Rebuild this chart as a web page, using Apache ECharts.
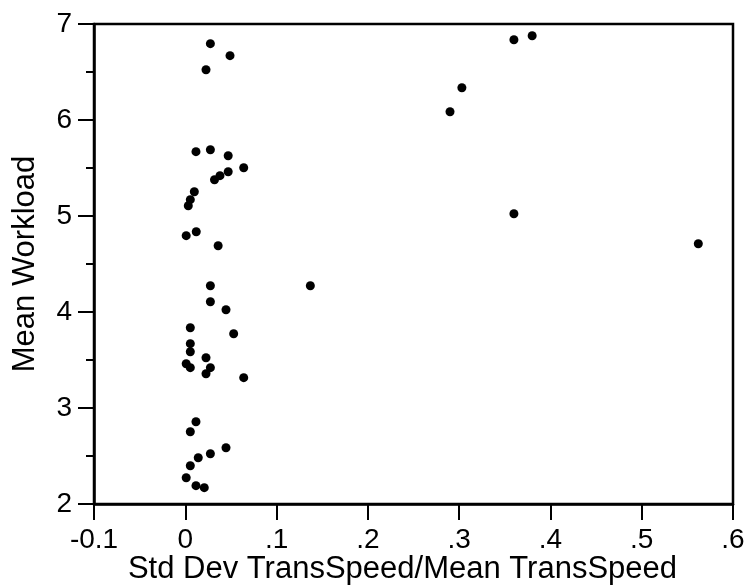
<!DOCTYPE html>
<html>
<head>
<meta charset="utf-8">
<script src="https://cdn.jsdelivr.net/npm/echarts@6/dist/echarts.min.js"></script>
<style>html,body{margin:0;padding:0;background:#fff;}#c{width:746px;height:587px;}</style>
</head>
<body>
<div id="c"></div>
<script>
// Std Dev TransSpeed / Mean TransSpeed
const cvSpeed = [
  0.0275, 0.049, 0.0227, 0.0117, 0.0275, 0.047, 0.064, 0.047, 0.038, 0.032,
  0.0099, 0.0055, 0.0033, 0.012, 0.001, 0.036,
  0.0275, 0.137, 0.0275, 0.0446, 0.0055, 0.053, 0.0055, 0.0055, 0.0227, 0.001,
  0.0055, 0.0275, 0.0227, 0.064, 0.0117, 0.0055, 0.0446, 0.0275, 0.0142, 0.0055,
  0.001, 0.0117, 0.0208,
  0.360, 0.380, 0.303, 0.290, 0.360, 0.562
];
// Mean Workload
const meanWorkload = [
  6.795, 6.67, 6.524, 5.67, 5.69, 5.628, 5.503, 5.461, 5.42, 5.378,
  5.253, 5.17, 5.107, 4.836, 4.795, 4.69,
  4.274, 4.274, 4.107, 4.024, 3.836, 3.774, 3.670, 3.586, 3.524, 3.461,
  3.42, 3.42, 3.357, 3.316, 2.857, 2.753, 2.586, 2.524, 2.482, 2.399,
  2.274, 2.191, 2.170,
  6.836, 6.878, 6.336, 6.086, 5.024, 4.711
];
const xTickLabels = {"-0.1": "-0.1", "0": "0", "0.1": ".1", "0.2": ".2", "0.3": ".3", "0.4": ".4", "0.5": ".5", "0.6": ".6"};
const xTitle = "Std Dev TransSpeed/Mean TransSpeed";
const yTitle = "Mean Workload";

const points = cvSpeed.map((v, i) => [v, meanWorkload[i]]);
const font = "'Liberation Sans', Arial, sans-serif";

const chart = echarts.init(document.getElementById('c'), null, {renderer: 'canvas'});
chart.setOption({
  animation: false,
  backgroundColor: '#fff',
  grid: {left: 94, right: 13, top: 24, bottom: 83, containLabel: false, outerBoundsMode: 'none',
    show: true, borderColor: '#000', borderWidth: 2.5, backgroundColor: 'transparent'},
  xAxis: {
    type: 'value', min: -0.1, max: 0.6, interval: 0.1,
    name: xTitle, nameLocation: 'middle', nameGap: 50, nameMoveOverlap: false,
    nameTextStyle: {fontFamily: font, fontSize: 31, color: '#000', padding: [0, 22, 0, 0]},
    axisLine: {show: true, onZero: false, lineStyle: {color: '#000', width: 2.5}},
    axisTick: {show: true, inside: false, length: 16, lineStyle: {color: '#000', width: 2}},
    axisLabel: {fontFamily: font, fontSize: 28, color: '#000', margin: 22,
      formatter: v => { const k = String(Math.round(v * 10) / 10); return xTickLabels[k] !== undefined ? xTickLabels[k] : k; }},
    splitLine: {show: false}
  },
  yAxis: {
    type: 'value', min: 2, max: 7, interval: 1,
    name: yTitle, nameLocation: 'middle', nameGap: 53, nameMoveOverlap: false,
    nameTextStyle: {fontFamily: font, fontSize: 31, color: '#000'},
    axisLine: {show: true, onZero: false, lineStyle: {color: '#000', width: 2.5}},
    axisTick: {show: true, inside: false, length: 16, lineStyle: {color: '#000', width: 2}},
    minorTick: {show: true, splitNumber: 2, length: 8, lineStyle: {color: '#000', width: 2}},
    axisLabel: {fontFamily: font, fontSize: 28, color: '#000', margin: 22},
    splitLine: {show: false}
  },
  series: [{
    type: 'scatter', data: points, symbol: 'circle', symbolSize: 9,
    itemStyle: {color: '#000', opacity: 1}, clip: false
  }]
});
</script>
</body>
</html>
